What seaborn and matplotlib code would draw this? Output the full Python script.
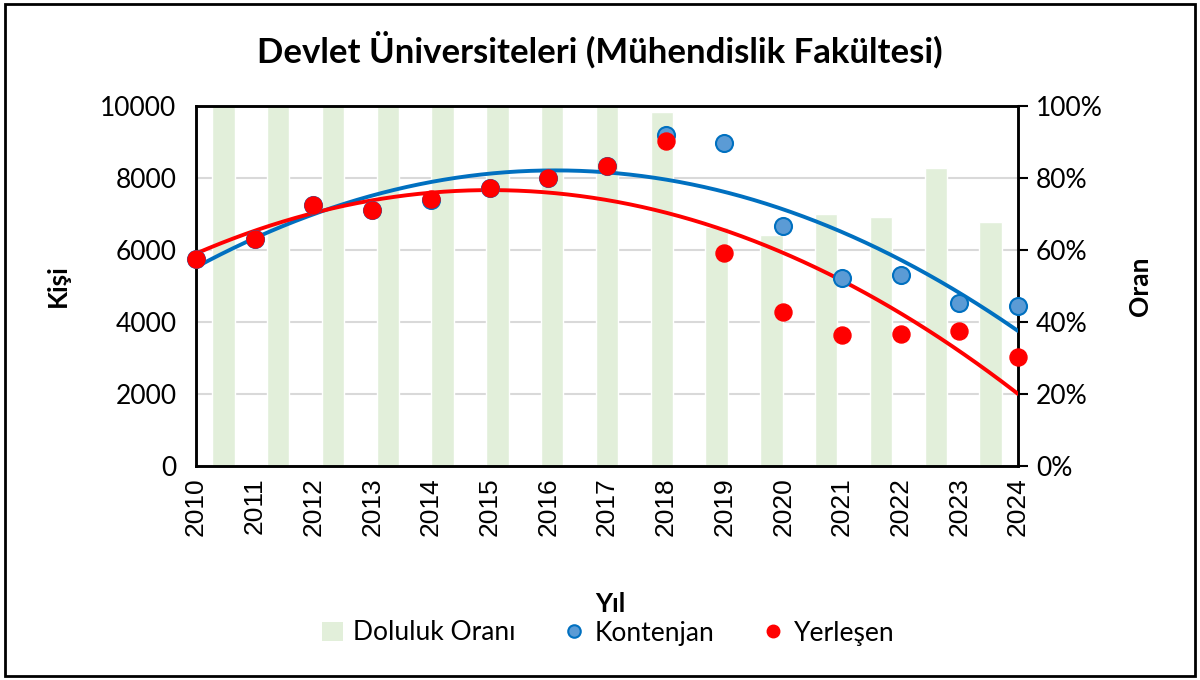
import numpy as np
import pandas as pd
import matplotlib
matplotlib.use("Agg")
import matplotlib.pyplot as plt
import seaborn as sns
from matplotlib.lines import Line2D
from matplotlib.patches import Patch, Rectangle

years = list(range(2010, 2025))
kontenjan = [5750, 6300, 7250, 7110, 7400, 7720, 8000, 8340, 9190, 8960, 6680, 5230, 5300, 4540, 4450]
yerlesen = [5740, 6300, 7240, 7110, 7410, 7720, 8000, 8340, 9030, 5920, 4280, 3640, 3680, 3750, 3020]
doluluk = [1.0, 1.0, 1.0, 1.0, 1.0, 1.0, 1.0, 1.0, 0.984, 0.665, 0.642, 0.699, 0.693, 0.827, 0.678]

df = pd.DataFrame({"Yil": years, "Kontenjan": kontenjan, "Yerlesen": yerlesen, "Doluluk": doluluk})
# bars sit on a secondary category axis: 15 equal bands across 2010..2024
n = len(years)
band = (years[-1] - years[0]) / n
df["BarX"] = [years[0] + (i + 0.5) * band for i in range(n)]

sns.set_theme(style="white")
plt.rcParams["font.family"] = ["Lato", "DejaVu Sans"]
plt.rcParams.update({"text.color": "black", "axes.labelcolor": "black",
                     "xtick.color": "black", "ytick.color": "black"})

FS = 19

fig = plt.figure(figsize=(12, 6.8), dpi=100)
ax = fig.add_axes([196 / 1200, 1 - 466 / 680, (1018 - 196) / 1200, (466 - 106) / 680])
ax2 = ax.twinx()
ax.set_zorder(ax2.get_zorder() + 1)
ax.patch.set_visible(False)

# bars on secondary axis
ax2.bar(df["BarX"], df["Doluluk"], width=0.38, color="#E2EFDA", zorder=2)
ax2.set_ylim(0, 1)
ax2.set_yticks(np.arange(0, 1.01, 0.2))
ax2.set_yticklabels([f"{int(round(v*100))}%" for v in np.arange(0, 1.01, 0.2)], fontsize=FS)
ax2.grid(True, color="#D9D9D9", linewidth=1.5, zorder=0)
ax2.set_axisbelow(True)
ax2.tick_params(axis="y", direction="out", length=7, width=1.5, color="black", pad=6)
ax2.set_ylabel("Oran", fontsize=FS, fontweight="bold", labelpad=18)

# trendlines (2nd order polynomial)
xs = np.linspace(years[0], years[-1], 200)
pk = np.polyfit(years, kontenjan, 2)
py = np.polyfit(years, yerlesen, 2)
sns.lineplot(x=xs, y=np.polyval(pk, xs), ax=ax, color="#0070C0", linewidth=2.8, zorder=3)
sns.lineplot(x=xs, y=np.polyval(py, xs), ax=ax, color="#FF0000", linewidth=2.8, zorder=3)

sns.scatterplot(data=df, x="Yil", y="Kontenjan", ax=ax, color="#5B9BD5", edgecolor="#0070C0",
                linewidth=1.5, s=150, zorder=4, clip_on=False)
sns.scatterplot(data=df, x="Yil", y="Yerlesen", ax=ax, color="#FF0000", edgecolor="#FF0000",
                linewidth=1, s=150, zorder=5, clip_on=False)

ax.set_xlim(years[0], years[-1])
ax.set_ylim(0, 10000)
ax.set_yticks(range(0, 10001, 2000))
ax.set_yticklabels([str(v) for v in range(0, 10001, 2000)], fontsize=FS)
ax.set_xticks(years)
ax.set_xticklabels([str(y) for y in years], rotation=90, fontsize=19,
                   family=["Liberation Sans", "DejaVu Sans"])
ax.tick_params(axis="y", length=0, pad=14)
ax.tick_params(axis="x", length=0, pad=8)
ax.grid(False)
ax2.tick_params(axis="x", length=0)
ax.set_xlabel("")
ax.set_ylabel("Kişi", fontsize=FS, fontweight="bold", labelpad=22)

for a in (ax, ax2):
    for s in a.spines.values():
        s.set_visible(True)
        s.set_color("black")
        s.set_linewidth(1.8)

fig.text(0.5, 1 - 50 / 680, "Devlet Üniversiteleri (Mühendislik Fakültesi)", ha="center", va="center",
         fontsize=25, fontweight="bold", color="black")
fig.text(610 / 1200, 1 - 604 / 680, "Yıl", ha="center", va="center", fontsize=FS, fontweight="bold",
         color="black")

handles = [Patch(facecolor="#E2EFDA", edgecolor="none", label="Doluluk Oranı"),
           Line2D([], [], linestyle="none", marker="o", markersize=9, markerfacecolor="#5B9BD5",
                  markeredgecolor="#0070C0", markeredgewidth=1.5, label="Kontenjan"),
           Line2D([], [], linestyle="none", marker="o", markersize=9, markerfacecolor="#FF0000",
                  markeredgecolor="#FF0000", label="Yerleşen")]
leg = fig.legend(handles=handles, loc="center", bbox_to_anchor=(608 / 1200, 1 - 633 / 680), ncol=3,
                 frameon=False, fontsize=FS, handlelength=0.8, handletextpad=0.4, columnspacing=1.8)
for t in leg.get_texts():
    t.set_color("black")

fig.add_artist(Rectangle((0.004, 0.006), 0.992, 0.988, transform=fig.transFigure, fill=False,
                         edgecolor="black", linewidth=2))

fig.savefig("out.png", dpi=100)
